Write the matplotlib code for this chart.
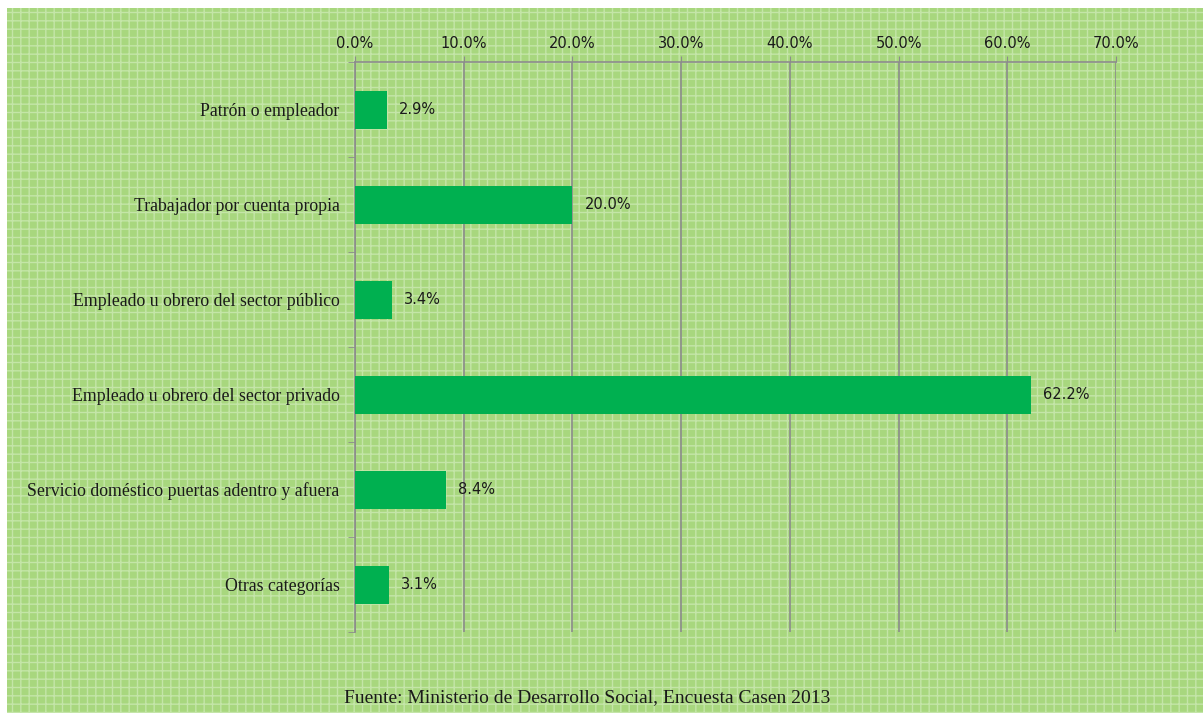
import matplotlib.pyplot as plt
from matplotlib.patches import Rectangle
from matplotlib.ticker import MultipleLocator, FuncFormatter

# datos (Casen 2013)
categorias = ['Patrón o empleador',
              'Trabajador por cuenta propia',
              'Empleado u obrero del sector público',
              'Empleado u obrero del sector privado',
              'Servicio doméstico puertas adentro y afuera',
              'Otras categorías']
porcentajes = [2.9, 20.0, 3.4, 62.2, 8.4, 3.1]
fuente = 'Fuente: Ministerio de Desarrollo Social, Encuesta Casen 2013'

fondo = '#a8d77e'
verde = '#00b050'
gris = '#8c8c8c'

fig = plt.figure(figsize=(12.03, 7.13), dpi=100, facecolor='white')

# fondo verde con trama (como el relleno de Excel)
bg = Rectangle((7 / 1203, 0), 1, 1 - 8 / 713, transform=fig.transFigure,
               facecolor=fondo, edgecolor='#c4e5a8', hatch='++', linewidth=0,
               zorder=-10)
fig.patches.append(bg)

ax = fig.add_axes([355 / 1203, 1 - 632 / 713, 761 / 1203, 570 / 713])
ax.patch.set_alpha(0)

y = list(range(len(categorias)))
ax.barh(y, porcentajes, height=0.4, color=verde, zorder=3)
for yi, v in zip(y, porcentajes):
    ax.text(v + 1.1, yi, f'{v:.1f}%', va='center', ha='left',
            fontsize=10.5, family='DejaVu Sans', color='#1a1a1a', zorder=4)

ax.set_xlim(0, 70)
ax.set_ylim(len(categorias) - 0.5, -0.5)
ax.xaxis.set_major_locator(MultipleLocator(10))
ax.xaxis.set_major_formatter(FuncFormatter(lambda v, p: f'{v:.1f}%'))
ax.xaxis.tick_top()
ax.tick_params(axis='x', length=4, color=gris, labelsize=10.5, pad=4,
               labelcolor='#1a1a1a')
for lbl in ax.get_xticklabels():
    lbl.set_family('DejaVu Sans')
ax.grid(axis='x', color=gris, linewidth=1.2, zorder=1)

ax.set_yticks(y)
ax.set_yticklabels(categorias, family='Liberation Serif', fontsize=12.8,
                   color='#1a1a1a')
ax.set_yticks([i + 0.5 for i in y[:-1]] + [-0.5, len(categorias) - 0.5],
              minor=True)
ax.tick_params(axis='y', which='major', length=0, pad=11)
ax.tick_params(axis='y', which='minor', length=5, color=gris)

for s in ['right', 'bottom']:
    ax.spines[s].set_visible(False)
for s in ['top', 'left']:
    ax.spines[s].set_color(gris)
    ax.spines[s].set_linewidth(1.2)

fig.text(587 / 1203, 1 - 698 / 713, fuente, ha='center', va='center',
         family='Liberation Serif', fontsize=14, color='#1a1a1a')

fig.savefig('out.png', dpi=100, facecolor=fig.get_facecolor())
